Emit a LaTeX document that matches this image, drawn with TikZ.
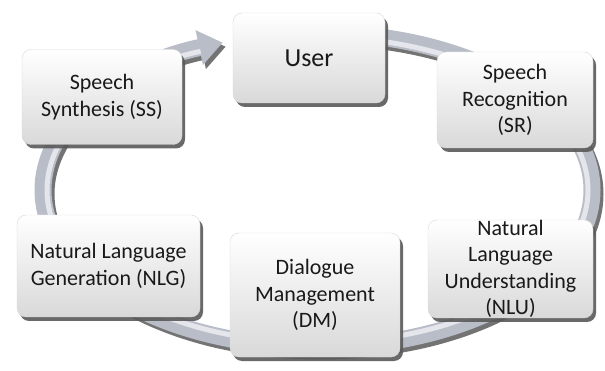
\documentclass[tikz,border=0pt]{standalone}
\usepackage{fontspec}
\setmainfont{Carlito}
\usetikzlibrary{arrows.meta, shadows}

\definecolor{ringgray}{HTML}{B9BDC8}
\definecolor{ringlite}{HTML}{E4E6EC}

\tikzset{
	stage/.style={rectangle, rounded corners=9pt, draw=gray!30, top color=white, bottom color=gray!30,
		drop shadow={shadow xshift=3pt, shadow yshift=-4pt, fill=black!65, opacity=.9},
		inner sep=0pt, align=center, text=black!90, font=\fontsize{22}{26.5}\selectfont},
	ringshadow/.style={line width=17pt, draw=black!55, -{Triangle[length=24pt, width=34pt]}},
	ringband/.style={line width=17pt, draw=ringgray, -{Triangle[length=24pt, width=34pt]}},
	ringhigh/.style={line width=5pt, draw=ringlite, shorten >=24pt}
}

\begin{document}
\begin{tikzpicture}[x=1pt, y=-1pt]
		\useasboundingbox (0, 0) rectangle (605, 371);

		\coordinate (m) at (317.5, 190);
		\coordinate (top) at (317.5, 33);
		\coordinate (topin) at (317.5, 37);

		% the cycle band
		\draw[ringshadow] ([shift={(3pt, -4pt)}]top) arc[start angle=90, end angle=-249.8, x radius=274.5pt, y radius=157pt];
		\draw[ringband] (top) arc[start angle=90, end angle=-249.8, x radius=274.5pt, y radius=157pt];
		\draw[ringhigh] (topin) arc[start angle=90, end angle=-249.8, x radius=270.5pt, y radius=153pt];

		\node[stage, minimum width=152pt, minimum height=90pt, font=\fontsize{26}{31}\selectfont] (user) at (309, 58) {User};
		\node[stage, minimum width=156pt, minimum height=96pt] (sr) at (515, 100) {Speech\\Recognition\\(SR)};
		\node[stage, minimum width=165pt, minimum height=98pt] (nlu) at (510.5, 269) {Natural\\Language\\Understanding\\(NLU)};
		\node[stage, minimum width=170pt, minimum height=124pt] (dm) at (315, 295) {Dialogue\\Management\\(DM)};
		\node[stage, minimum width=183pt, minimum height=102pt] (nlg) at (108.5, 266) {Natural Language\\Generation (NLG)};
		\node[stage, minimum width=160pt, minimum height=95pt] (ss) at (102, 97) {Speech\\Synthesis (SS)};
	\end{tikzpicture}
\end{document}
